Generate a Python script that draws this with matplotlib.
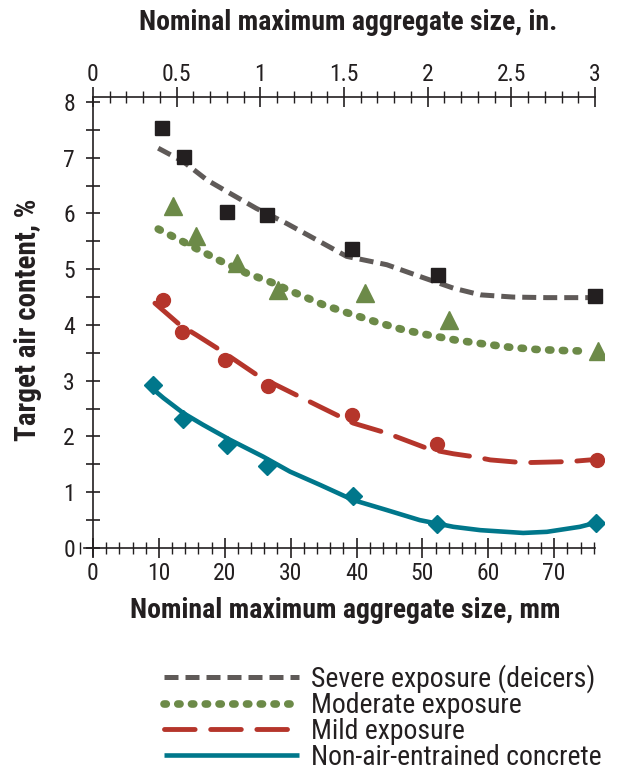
import matplotlib
matplotlib.use("Agg")
import matplotlib.pyplot as plt
from matplotlib.ticker import MultipleLocator, FuncFormatter

plt.rcParams['font.family'] = ['Roboto Condensed', 'DejaVu Sans']

# ---- data (x in mm, y in %) ----
sq_x = [10.5, 13.8, 20.3, 26.4, 39.3, 52.4, 76.2]
sq_y = [7.54, 7.01, 6.03, 5.97, 5.36, 4.90, 4.52]

tri_x = [12.2, 15.6, 21.8, 28.1, 41.3, 54.0, 76.6]
tri_y = [6.13, 5.60, 5.11, 4.63, 4.58, 4.08, 3.53]

cir_x = [10.7, 13.5, 20.0, 26.5, 39.3, 52.2, 76.5]
cir_y = [4.45, 3.87, 3.38, 2.91, 2.39, 1.86, 1.58]

dia_x = [9.1, 13.6, 20.3, 26.4, 39.4, 52.2, 76.4]
dia_y = [2.92, 2.31, 1.84, 1.47, 0.93, 0.43, 0.45]

severe_x = [9.9, 13.7, 17.3, 20.8, 24.8, 29.4, 34.5, 38.5, 44.6, 49.6, 54.7, 58.8, 63.8, 68.9, 75.4]
severe_y = [7.17, 6.93, 6.60, 6.36, 6.09, 5.82, 5.49, 5.23, 5.08, 4.87, 4.66, 4.54, 4.50, 4.49, 4.49]

moderate_x = [9.9, 11.9, 15.7, 19.3, 23.3, 27.4, 29.4, 35.0, 38.8, 42.8, 46.9, 50.9, 55.0, 59.3, 63.3, 67.4, 71.7, 75.4]
moderate_y = [5.72, 5.60, 5.37, 5.15, 4.93, 4.75, 4.64, 4.36, 4.21, 4.06, 3.92, 3.82, 3.73, 3.66, 3.60, 3.56, 3.54, 3.53]

mild_x = [9.4, 13.2, 15.7, 19.3, 25.3, 29.9, 34.5, 39.5, 44.6, 51.1, 54.7, 58.2, 60.3, 65.3, 72.4, 76.5]
mild_y = [4.39, 4.00, 3.82, 3.55, 3.07, 2.80, 2.53, 2.24, 2.06, 1.77, 1.69, 1.63, 1.58, 1.53, 1.55, 1.59]

nonair_x = [8.2, 10.7, 13.7, 16.7, 20.8, 25.8, 29.9, 34.5, 39.5, 44.6, 49.6, 54.7, 58.8, 65.3, 68.9, 73.9, 76.2]
nonair_y = [2.94, 2.69, 2.42, 2.21, 1.94, 1.64, 1.37, 1.13, 0.86, 0.68, 0.50, 0.38, 0.32, 0.27, 0.29, 0.38, 0.45]

labels = ["Severe exposure (deicers)", "Moderate exposure", "Mild exposure",
          "Non-air-entrained concrete"]
bottom_ticks = [0, 10, 20, 30, 40, 50, 60, 70]
top_ticks = [0, 0.5, 1, 1.5, 2, 2.5, 3]
y_ticks = [0, 1, 2, 3, 4, 5, 6, 7, 8]

# ---- colours ----
c_gray = "#5f5a58"
c_green = "#6c8a48"
c_red = "#b5352b"
c_teal = "#00778b"
c_black = "#231f20"

fig = plt.figure(figsize=(6.24, 7.75), dpi=100)
ax = fig.add_axes([0.1279, 0.2821, 0.8394, 0.5972])
ax.set_xlim(-2.0, 77.5)
ax.set_ylim(-0.15, 8.15)

l1, = ax.plot(severe_x, severe_y, color=c_gray, lw=3.6, dashes=(2.8, 1.4),
              dash_capstyle='butt', zorder=2)
l2, = ax.plot(moderate_x, moderate_y, color=c_green, lw=5.5, dashes=(0.3, 1.5),
              dash_capstyle='round', zorder=2)
l3, = ax.plot(mild_x, mild_y, color=c_red, lw=3.5, dashes=(6.3, 3.2),
              dash_capstyle='round', zorder=2)
l4, = ax.plot(nonair_x, nonair_y, color=c_teal, lw=3.3, solid_capstyle='butt', zorder=2)

ax.plot(sq_x, sq_y, ls='none', marker='s', ms=10, color=c_black, zorder=3)
ax.plot(tri_x, tri_y, ls='none', marker='^', ms=13, color=c_green, zorder=3)
ax.plot(cir_x, cir_y, ls='none', marker='o', ms=10, color=c_red, zorder=3)
ax.plot(dia_x, dia_y, ls='none', marker='D', ms=9, color=c_teal, zorder=3)

# spines
for s in ['right', 'top']:
    ax.spines[s].set_visible(False)
ax.spines['left'].set_position(('data', 0))
ax.spines['bottom'].set_position(('data', 0))
ax.spines['left'].set_bounds(-0.15, 8.09)
ax.spines['bottom'].set_bounds(-1.3, 76.2)
for s in ['left', 'bottom']:
    ax.spines[s].set_linewidth(1.2)
    ax.spines[s].set_color('#231f20')

ax.set_xticks(bottom_ticks)
ax.xaxis.set_minor_locator(MultipleLocator(2))
ax.set_yticks(y_ticks)
ax.yaxis.set_minor_locator(MultipleLocator(0.5))
ax.tick_params(axis='x', which='major', direction='inout', length=14, width=1.2,
               labelsize=17, pad=3, color='#231f20', labelcolor='#231f20')
ax.tick_params(axis='x', which='minor', direction='inout', length=9, width=1.0,
               color='#231f20')
ax.tick_params(axis='y', which='both', direction='inout', length=10, width=1.2,
               labelsize=17, pad=8, color='#231f20', labelcolor='#231f20')

# top axis in inches
sec = ax.secondary_xaxis(8.09, functions=(lambda x: x / 25.4, lambda x: x * 25.4),
                         transform=ax.transData)
sec.set_xticks(top_ticks)
sec.xaxis.set_minor_locator(MultipleLocator(0.1))
sec.xaxis.set_major_formatter(FuncFormatter(lambda v, p: f"{v:g}"))
sec.tick_params(axis='x', which='major', direction='inout', length=14, width=1.2,
                labelsize=17, pad=1, color='#231f20', labelcolor='#231f20')
sec.tick_params(axis='x', which='minor', direction='inout', length=9, width=1.0,
                color='#231f20')
sec.spines['top'].set_bounds(0, 3)
sec.spines['top'].set_linewidth(1.2)
sec.spines['top'].set_color('#231f20')

fig.text(0.558, 0.971, "Nominal maximum aggregate size, in.", ha='center', va='center',
         fontsize=20, fontweight='bold', color='#231f20')
fig.text(0.553, 0.212, "Nominal maximum aggregate size, mm", ha='center', va='center',
         fontsize=20, fontweight='bold', color='#231f20')
fig.text(0.045, 0.587, "Target air content, %", ha='center', va='center', rotation=90,
         fontsize=21, fontweight='bold', color='#231f20')

fig.legend([l1, l2, l3, l4], labels, loc='upper left', bbox_to_anchor=(0.263, 0.1425),
           frameon=False, fontsize=20, handlelength=4.85, handletextpad=0.43,
           labelspacing=-0.04, borderpad=0, borderaxespad=0, labelcolor='#231f20')

fig.savefig("out.png", dpi=100)
